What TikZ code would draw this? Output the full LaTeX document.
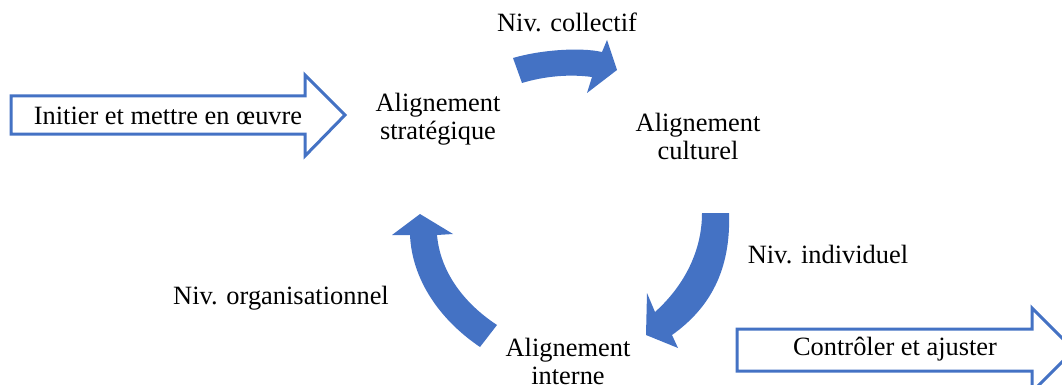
\documentclass[tikz,border=0pt]{standalone}
\usepackage{fontspec}
\setmainfont{Liberation Serif}
\definecolor{cycleblue}{HTML}{4472C4}
\begin{document}
\begin{tikzpicture}[x=1pt,y=-1pt,
  lbl/.style={inner sep=0pt,align=center,font=\fontsize{26.4}{28}\selectfont},
  cyc/.style={fill=cycleblue,draw=none},
  blockarrow/.style={draw=cycleblue,line width=3pt,fill=white,line join=miter}]
\useasboundingbox (0,0) rectangle (1062,385);
\clip (0,0) rectangle (1062,385);
% block arrows
\draw[blockarrow] (11,96) -- (305,96) -- (305,75) -- (345,115) -- (305,156) -- (305,134) -- (11,134) -- cycle;
\draw[blockarrow] (737,329) -- (1032,329) -- (1032,308) -- (1074,350) -- (1032,392) -- (1032,371) -- (737,371) -- cycle;
\node[lbl] (init) at (168,116) {Initier et mettre en œuvre};
\node[lbl] (ctrl) at (895,349) {Contrôler et ajuster};
% cycle labels
\node[lbl] (strat) at (438,119) {Alignement\\stratégique};
\node[lbl] (cult) at (698,136) {Alignement\\culturel};
\node[lbl] (intern) at (568,361) {Alignement\\interne};
\node[lbl] (coll) at (567,22) {Niv. collectif};
\node[lbl] (indiv) at (828,255) {Niv. individuel};
\node[lbl] (orga) at (281,298) {Niv. organisationnel};
% curved arrows
\fill[cyc] (513,58) .. controls (540,50) and (580,47) .. (602,52) -- (607,40) -- (617,70) -- (587,93) -- (592,77) .. controls (570,74) and (545,76) .. (522,83) -- cycle;
\fill[cyc] (702,213) -- (729,213) .. controls (731,270) and (710,308) .. (672,335) -- (678,348) -- (646,335) -- (647,293) -- (655,312) .. controls (685,285) and (702,250) .. (702,213) -- cycle;
\fill[cyc] (480,347) .. controls (440,320) and (412,280) .. (410,235) -- (392,235) -- (420,214) -- (453,234) -- (437,235) .. controls (440,270) and (462,302) .. (497,325) -- cycle;
\end{tikzpicture}
\end{document}
